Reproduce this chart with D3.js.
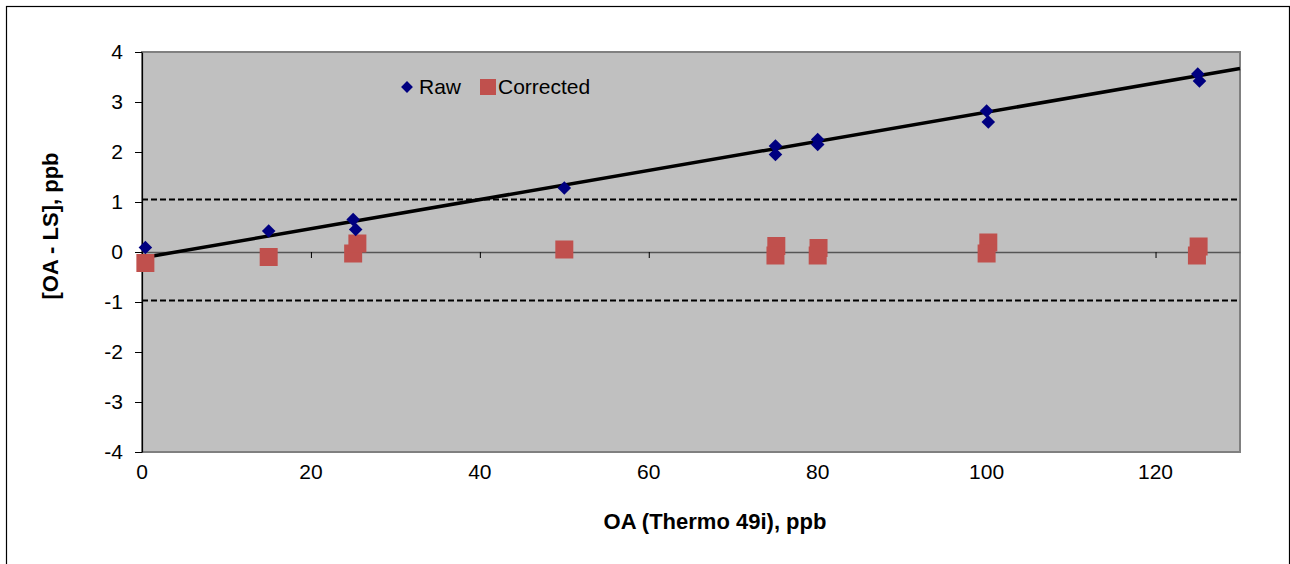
<!DOCTYPE html>
<html lang="en">
<head>
<meta charset="UTF-8" />
<title>OA - LS difference</title>
<style>
  body { margin: 0; background: #fff; }
  svg { font-family: "Liberation Sans", Arial, sans-serif; }
</style>
</head>
<body>
<script src="https://cdn.jsdelivr.net/npm/d3@7"></script>
<script>
// raw differences
var rawX = [0.4, 15, 25, 25.3, 50, 75, 75, 80, 80, 100, 100.2, 125, 125.2];
var rawY = [0.09, 0.42, 0.65, 0.45, 1.28, 2.12, 1.95, 2.25, 2.15, 2.82, 2.6, 3.56, 3.42];

// corrected differences
var corrX = [0.4, 15, 25, 25.5, 50, 75.1, 75, 80.1, 80, 100.2, 100, 125.1, 124.9];
var corrY = [-0.22, -0.1, -0.03, 0.17, 0.05, 0.12, -0.07, 0.08, -0.07, 0.19, -0.03, 0.11, -0.07];

// fit line and the two dashed limits
var fitX = [0.25, 130];
var fitY = [-0.11, 3.67];
var upperLimit = 1.05;
var lowerLimit = -0.97;

var xTicks = [0, 20, 40, 60, 80, 100, 120];
var yTicks = [-4, -3, -2, -1, 0, 1, 2, 3, 4];

var W = 1290, H = 564;
var margin = { top: 52, right: 50, bottom: 112, left: 142 };
var pw = W - margin.left - margin.right,
    ph = H - margin.top - margin.bottom;

var svg = d3.select("body").append("svg")
    .attr("width", W)
    .attr("height", H);

// outer frame
svg.append("rect")
    .attr("x", 6.5).attr("y", 6.5)
    .attr("width", 1283).attr("height", 580)
    .attr("fill", "none")
    .attr("stroke", "#000")
    .attr("stroke-width", 1.2);

var g = svg.append("g")
    .attr("transform", "translate(" + margin.left + "," + margin.top + ")");

var xScale = d3.scaleLinear().domain([0, 130]).range([0, pw]);
var yScale = d3.scaleLinear().domain([-4, 4]).range([ph, 0]);

// plot area
g.append("rect")
    .attr("width", pw).attr("height", ph)
    .attr("fill", "#c0c0c0")
    .attr("stroke", "#808080")
    .attr("stroke-width", 2);

// y axis
var yAxis = d3.axisLeft(yScale)
    .tickValues(yTicks)
    .tickSize(7)
    .tickSizeOuter(0)
    .tickPadding(12)
    .tickFormat(function(d) { return String(d); });

var yg = g.append("g").attr("class", "yaxis").call(yAxis);
yg.select(".domain").attr("stroke", "#000").attr("stroke-width", 1.2);
yg.selectAll(".tick line").attr("stroke", "#000");
yg.selectAll("text")
    .attr("font-size", 21)
    .attr("font-family", "Liberation Sans, Arial, sans-serif")
    .attr("fill", "#000");

// x axis on the zero line, ticks below it
var xAxis = d3.axisBottom(xScale)
    .tickValues(xTicks)
    .tickSize(6)
    .tickSizeOuter(0)
    .tickFormat("");

var xg = g.append("g")
    .attr("class", "xaxis")
    .attr("transform", "translate(0," + yScale(0) + ")")
    .call(xAxis);
xg.select(".domain").attr("stroke", "#555").attr("stroke-width", 1.5);
xg.selectAll(".tick line").attr("stroke", "#000");

// x tick labels sit under the plot area
g.selectAll(".xlabel")
    .data(xTicks)
    .enter().append("text")
    .attr("class", "xlabel")
    .attr("x", function(d) { return xScale(d); })
    .attr("y", ph + 27)
    .attr("text-anchor", "middle")
    .attr("font-size", 21)
    .text(function(d) { return d; });

// dashed limits
[upperLimit, lowerLimit].forEach(function(v) {
  g.append("line")
      .attr("x1", 0).attr("x2", pw)
      .attr("y1", yScale(v)).attr("y2", yScale(v))
      .attr("stroke", "#000")
      .attr("stroke-width", 2)
      .attr("stroke-dasharray", "6,3");
});

// fit line
var line = d3.line()
    .x(function(d) { return xScale(d[0]); })
    .y(function(d) { return yScale(d[1]); });

g.append("path")
    .datum(d3.zip(fitX, fitY))
    .attr("d", line)
    .attr("fill", "none")
    .attr("stroke", "#000")
    .attr("stroke-width", 3.5);

// corrected squares
var square = d3.symbol().type(d3.symbolSquare).size(324);
g.selectAll(".corr")
    .data(d3.zip(corrX, corrY))
    .enter().append("path")
    .attr("class", "corr")
    .attr("d", square)
    .attr("transform", function(d) {
      return "translate(" + xScale(d[0]) + "," + yScale(d[1]) + ")";
    })
    .attr("fill", "#c0504d");

// raw diamonds
var diamond = d3.symbol().type(d3.symbolSquare).size(92);
g.selectAll(".raw")
    .data(d3.zip(rawX, rawY))
    .enter().append("path")
    .attr("class", "raw")
    .attr("d", diamond)
    .attr("transform", function(d) {
      return "translate(" + xScale(d[0]) + "," + yScale(d[1]) + ") rotate(45)";
    })
    .attr("fill", "#000080");

// legend
var legend = svg.append("g");
legend.append("path")
    .attr("d", d3.symbol().type(d3.symbolSquare).size(70))
    .attr("transform", "translate(407,87) rotate(45)")
    .attr("fill", "#000080");
legend.append("text")
    .attr("x", 419).attr("y", 94)
    .attr("font-size", 21)
    .text("Raw");
legend.append("path")
    .attr("d", d3.symbol().type(d3.symbolSquare).size(256))
    .attr("transform", "translate(488,87)")
    .attr("fill", "#c0504d");
legend.append("text")
    .attr("x", 498).attr("y", 94)
    .attr("font-size", 21)
    .text("Corrected");

// axis titles
svg.append("text")
    .attr("x", 715).attr("y", 529)
    .attr("text-anchor", "middle")
    .attr("font-size", 22)
    .attr("font-weight", "bold")
    .text("OA (Thermo 49i), ppb");

svg.append("text")
    .attr("transform", "translate(58,226) rotate(-90)")
    .attr("text-anchor", "middle")
    .attr("font-size", 22)
    .attr("font-weight", "bold")
    .text("[OA - LS], ppb");
</script>
</body>
</html>
